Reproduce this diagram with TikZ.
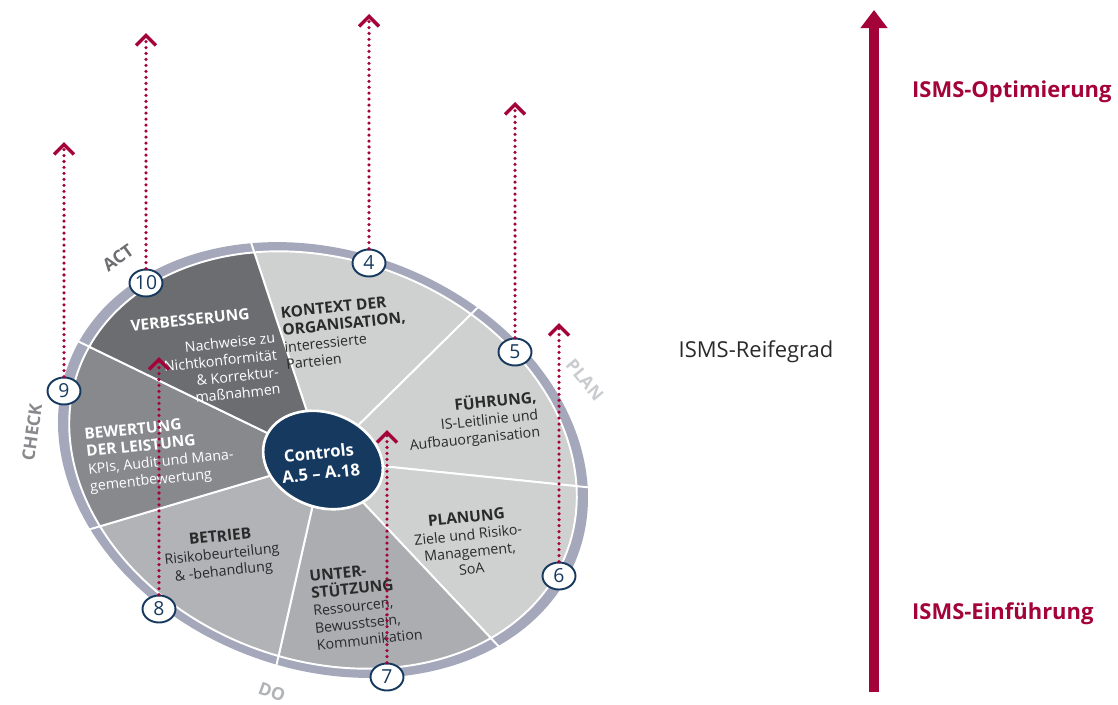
\documentclass[tikz,border=0pt]{standalone}
\usepackage{fontspec}
\setmainfont{Open Sans}
\usetikzlibrary{arrows.meta,shapes.geometric}

\definecolor{rot}{HTML}{A4033A}
\definecolor{navy}{HTML}{163A5F}
\definecolor{ringgrau}{HTML}{A5A8BB}
\definecolor{dunkel}{HTML}{6C6D71}
\definecolor{mittel}{HTML}{88898D}
\definecolor{grau}{HTML}{B2B3B6}
\definecolor{grauzwei}{HTML}{ACADB0}
\definecolor{hell}{HTML}{CFD0D0}
\definecolor{blass}{HTML}{C9CBCE}
\definecolor{schrift}{HTML}{2A2A2A}

\newcommand\titel[1]{{\bfseries\fontsize{8.8}{9.8}\selectfont #1}}

\tikzset{
  sektor/.style={draw=white, line width=1.1pt},
  nummer/.style={ellipse, draw=navy, fill=white, line width=1.1pt, minimum width=0.66cm,
    minimum height=0.54cm, inner sep=0pt, text=navy, font=\fontsize{11}{11}\selectfont},
  punktpfeil/.style={rot, line width=2pt, line cap=round, dash pattern=on 0pt off 3.4pt,
    -{Straight Barb[length=2mm, width=4mm, line width=2pt]}},
  feld/.style={rotate=6, text=schrift, inner sep=0pt, font=\fontsize{8.1}{9.8}\selectfont},
  phase/.style={inner sep=0pt, font=\bfseries\fontsize{10}{10}\selectfont}
}

\begin{document}
\begin{tikzpicture}[x=0.02cm, y=0.02cm]
\useasboundingbox (0,0) rectangle (1118,-704);
% Rad
\begin{scope}[shift={(323,-460)}, rotate=-20.7, xscale=272, yscale=209]
% Ring
\fill[ringgrau] (0,0) circle[radius=1];
% Sektoren
\path[sektor, fill=hell] (0,0) -- (121.9:0.958) arc[start angle=121.9, end angle=70.5, radius=0.958] -- cycle;
\path[sektor, fill=hell] (0,0) -- (70.5:0.958) arc[start angle=70.5, end angle=19.0, radius=0.958] -- cycle;
\path[sektor, fill=hell] (0,0) -- (19.0:0.958) arc[start angle=19.0, end angle=-32.4, radius=0.958] -- cycle;
\path[sektor, fill=grauzwei] (0,0) -- (-32.4:0.958) arc[start angle=-32.4, end angle=-83.9, radius=0.958] -- cycle;
\path[sektor, fill=grau] (0,0) -- (-83.9:0.958) arc[start angle=-83.9, end angle=-135.3, radius=0.958] -- cycle;
\path[sektor, fill=mittel] (0,0) -- (-135.3:0.958) arc[start angle=-135.3, end angle=-186.7, radius=0.958] -- cycle;
\path[sektor, fill=dunkel] (0,0) -- (-186.7:0.958) arc[start angle=-186.7, end angle=-238.1, radius=0.958] -- cycle;
% Trennlinien im Ring
\draw[sektor] (121.9:0.95) -- (121.9:1.01) (70.5:0.95) -- (70.5:1.01) (19.0:0.95) -- (19.0:1.01)
  (-32.4:0.95) -- (-32.4:1.01) (-83.9:0.95) -- (-83.9:1.01) (-135.3:0.95) -- (-135.3:1.01)
  (-186.7:0.95) -- (-186.7:1.01);
% Mitte
\path[fill=navy, draw=white, line width=1.5pt] (0,0) circle[radius=0.226];
\end{scope}
\node[rotate=6, text=white, align=center, font=\bfseries\fontsize{9.5}{11.5}\selectfont] (mitte) at (320,-463) {Controls\\A.5 – A.18};

% Texte in den Sektoren
\node[feld, align=left] (kontext) at (345,-332) {\titel{KONTEXT DER}\\\titel{ORGANISATION,}\\interessierte\\Parteien};
\node[feld, align=right] (fuehrung) at (473,-421) {\titel{FÜHRUNG,}\\IS-Leitlinie und\\Aufbauorganisation};
\node[feld, align=center] (planung) at (469,-543) {\titel{PLANUNG}\\Ziele und Risiko-\\Management,\\SoA};
\node[feld, align=left] (unterst) at (366,-605) {\titel{UNTER-}\\\titel{STÜTZUNG}\\Ressourcen,\\Bewusstsein,\\Kommunikation};
\node[feld, align=center] (betrieb) at (222,-555) {\titel{BETRIEB}\\Risikobeurteilung\\\& -behandlung};
\node[feld, align=left, text=white] (bewertung) at (160,-454) {\titel{BEWERTUNG}\\\titel{DER LEISTUNG}\\KPIs, Audit und Mana-\\gementbewertung};
\node[feld, text=white] (verbtitel) at (190,-320) {\titel{VERBESSERUNG}};
\node[feld, align=right, anchor=east, text=white] (verb) at (278,-363) {Nachweise zu\\Nichtkonformität\\\& Korrektur-\\maßnahmen};

% Phasen
\node[phase, text=dunkel, rotate=36] (act) at (118,-258) {ACT};
\node[phase, text=blass, rotate=-50] (plan) at (585,-380) {PLAN};
\node[phase, text=grau, rotate=-20] (do) at (272,-692) {DO};
\node[phase, text=mittel, rotate=82] (check) at (32,-432) {CHECK};

% Nummern
\node[nummer] (n4) at (369,-263) {4};
\node[nummer] (n5) at (515,-352) {5};
\node[nummer] (n6) at (559,-576) {6};
\node[nummer] (n7) at (387,-677) {7};
\node[nummer] (n8) at (159,-609) {8};
\node[nummer] (n9) at (64,-391) {9};
\node[nummer] (n10) at (146,-283) {10};

% Pfeile
\coordinate (s4) at (369,-14);
\coordinate (s5) at (515,-102);
\coordinate (s6) at (559,-323);
\coordinate (s7) at (387,-430);
\coordinate (s8) at (159,-357);
\coordinate (s9) at (64,-142);
\coordinate (s10) at (146,-33);
\draw[punktpfeil] (n4) -- (s4);
\draw[punktpfeil] (n5) -- (s5);
\draw[punktpfeil] (n6) -- (s6);
\draw[punktpfeil] (n7) -- (s7);
\draw[punktpfeil] (n8) -- (s8);
\draw[punktpfeil] (n9) -- (s9);
\draw[punktpfeil] (n10) -- (s10);

% Reifegrad
\coordinate (fuss) at (874,-692);
\coordinate (spitze) at (874,-10);
\draw[rot, line width=0.2cm, -{Triangle[length=0.36cm, width=0.52cm]}] (fuss) -- (spitze);
\node[text=schrift, font=\fontsize{12.5}{14}\selectfont] (reife) at (756,-352) {ISMS-Reifegrad};
\node[anchor=west, text=rot, font=\bfseries\fontsize{12.5}{15}\selectfont] (opt) at (906,-92) {ISMS-Optimierung};
\node[anchor=west, text=rot, font=\bfseries\fontsize{12.5}{15}\selectfont] (einf) at (906,-614) {ISMS-Einführung};
\end{tikzpicture}
\end{document}
